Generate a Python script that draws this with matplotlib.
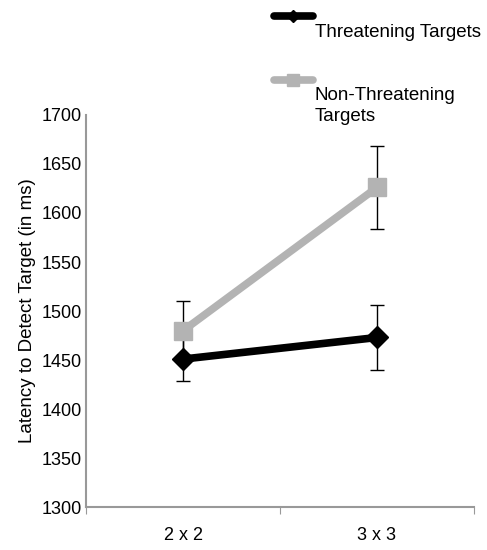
import matplotlib.pyplot as plt
from matplotlib.lines import Line2D

plt.rcParams['font.family'] = ['Liberation Sans', 'DejaVu Sans']

conditions = ["2 x 2", "3 x 3"]
threat_means = [1451, 1473]
threat_err = [22, 33]
nonthreat_means = [1480, 1626]
nonthreat_err = [30, 42]

gray = "#b3b3b3"

fig = plt.figure(figsize=(4.87, 5.5), dpi=100)
ax = fig.add_axes([0.177, 0.078, 0.796, 0.713])

x = [0.5, 1.5]
ax.errorbar(x, nonthreat_means, yerr=nonthreat_err, fmt="none", ecolor="black",
            elinewidth=1.0, capsize=5, capthick=1.0, zorder=2)
ax.errorbar(x, threat_means, yerr=threat_err, fmt="none", ecolor="black",
            elinewidth=1.0, capsize=5, capthick=1.0, zorder=2)
ax.plot(x, nonthreat_means, color=gray, lw=5.5, marker="s", ms=13,
        mfc=gray, mec=gray, zorder=3)
ax.plot(x, threat_means, color="black", lw=5.5, marker="D", ms=11,
        mfc="black", mec="black", zorder=4)

ax.set_xlim(0, 2)
ax.set_ylim(1300, 1700)
ax.set_yticks(range(1300, 1701, 50))
ax.set_xticks([0, 1, 2])
ax.set_xticklabels([])
ax.set_xticks(x, minor=True)
ax.set_xticklabels(conditions, minor=True, fontsize=13)
ax.tick_params(axis="x", which="minor", length=0, pad=14)
ax.tick_params(axis="x", which="major", length=5, color="#999999", direction="out")
ax.tick_params(axis="y", length=0, labelsize=13, pad=3)

for side in ("top", "right"):
    ax.spines[side].set_visible(False)
for side in ("left", "bottom"):
    ax.spines[side].set_color("#999999")
    ax.spines[side].set_linewidth(1.5)

ax.set_ylabel("Latency to Detect Target (in ms)", fontsize=13.5, labelpad=4)

# legend drawn by hand above the plot area
sample_x = [0.562, 0.602, 0.642]
fig.add_artist(Line2D(sample_x, [0.971] * 3, color="black", lw=5.5,
                      solid_capstyle="round", marker="D", ms=6,
                      markevery=[1], transform=fig.transFigure))
fig.text(0.646, 0.941, "Threatening Targets", fontsize=13.5, va="center", ha="left")
fig.add_artist(Line2D(sample_x, [0.855] * 3, color=gray, lw=5.5,
                      solid_capstyle="round", marker="s", ms=8,
                      markevery=[1], transform=fig.transFigure))
fig.text(0.646, 0.807, "Non-Threatening\nTargets", fontsize=13.5, va="center",
         ha="left", linespacing=1.3)

fig.savefig("out.png", dpi=100)
